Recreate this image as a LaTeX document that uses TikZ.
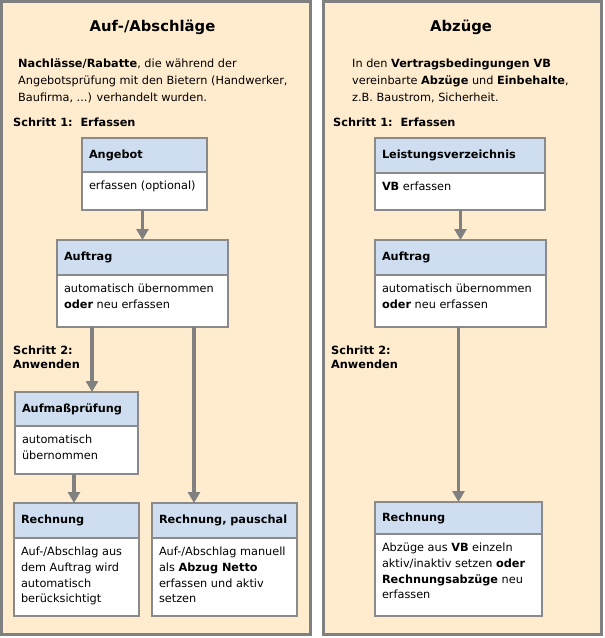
\documentclass[tikz,border=0pt]{standalone}
\usepackage{fontspec}
\setmainfont{DejaVu Sans}
\usetikzlibrary{arrows.meta}
\definecolor{papier}{RGB}{255,235,205}
\definecolor{rahmen}{RGB}{128,128,128}
\definecolor{kante}{RGB}{138,138,138}
\definecolor{kopfblau}{RGB}{206,222,240}
\newcommand{\inhalt}[3]{\parbox[t][#2][t]{#1}{\raggedright\strut #3}}
\tikzset{
	panel/.style={draw=rahmen, fill=papier, line width=3pt},
	titel/.style={anchor=base, inner sep=0pt, font=\fontsize{14.8}{17}\selectfont\bfseries},
	beschreibung/.style={anchor=north west, inner sep=0pt, align=left, font=\fontsize{11.3}{17}\selectfont},
	schritt/.style={anchor=north west, inner sep=0pt, align=left, font=\fontsize{11.3}{14}\selectfont\bfseries},
	kopf/.style={draw=kante, fill=kopfblau, line width=1.5pt, outer sep=0pt, anchor=north west, inner xsep=7pt, inner ysep=0pt, align=left, font=\fontsize{11.3}{15.6}\selectfont\bfseries},
	rumpf/.style={draw=kante, fill=white, line width=1.5pt, outer sep=0pt, anchor=north west, inner sep=7pt, font=\fontsize{11.3}{15.6}\selectfont},
	pfeil/.style={draw=rahmen, line width=3.5pt, -{Triangle[length=11pt,width=12pt]}}
}
\begin{document}
\begin{tikzpicture}[x=1pt,y=-1pt]
	\useasboundingbox (0,0) rectangle (605,638);
	\draw[panel] (1.5,1.5) rectangle (310.5,634);
	\draw[panel] (323,1.5) rectangle (601,634);

	\node[titel] (titelL) at (152.5,31) {Auf-/Abschläge};
	\node[beschreibung] (textL) at (18,55) {\strut\textbf{Nachlässe/Rabatte}, die während der\\Angebotsprüfung mit den Bietern (Handwerker,\\Baufirma, ...) verhandelt wurden.};
	\node[schritt] (schritt1L) at (13,116.2) {\strut Schritt 1:\ \ Erfassen};
	\node[schritt] (schritt2L) at (13,344.5) {\strut Schritt 2:\\Anwenden};

	\node[kopf, text width=111pt, minimum height=34pt] (angebotK) at (82,138) {Angebot};
	\node[rumpf] (angebotR) at (angebotK.south west) {\inhalt{111pt}{24pt}{erfassen (optional)}};
	\node[kopf, text width=157pt, minimum height=35pt] (auftragLK) at (57,240) {Auftrag};
	\node[rumpf] (auftragLR) at (auftragLK.south west) {\inhalt{157pt}{38pt}{automatisch übernommen\\\textbf{oder} neu erfassen}};
	\node[kopf, text width=109pt, minimum height=34pt] (aufmassK) at (15,392) {Aufmaßprüfung};
	\node[rumpf] (aufmassR) at (aufmassK.south west) {\inhalt{109pt}{34pt}{automatisch\\übernommen}};
	\node[kopf, text width=111pt, minimum height=35pt] (rechnungLK) at (14,503) {Rechnung};
	\node[rumpf] (rechnungLR) at (rechnungLK.south west) {\inhalt{111pt}{64pt}{Auf-/Abschlag aus\\dem Auftrag wird\\automatisch\\berücksichtigt}};
	\node[kopf, text width=131pt, minimum height=35pt] (pauschalK) at (152,503) {Rechnung, pauschal};
	\node[rumpf] (pauschalR) at (pauschalK.south west) {\inhalt{131pt}{64pt}{Auf-/Abschlag manuell\\als \textbf{Abzug Netto}\\erfassen und aktiv\\setzen}};

	\coordinate (abzweigA) at ([xshift=35pt]auftragLR.south west);
	\coordinate (abzweigB) at ([xshift=137pt]auftragLR.south west);
	\coordinate (abzweigC) at ([xshift=59pt]aufmassR.south west);
	\draw[pfeil] (auftragLK.north |- angebotR.south) -- (auftragLK.north);
	\draw[pfeil] (abzweigA) -- (abzweigA |- aufmassK.north);
	\draw[pfeil] (abzweigB) -- (abzweigB |- pauschalK.north);
	\draw[pfeil] (abzweigC) -- (abzweigC |- rechnungLK.north);

	\node[titel] (titelR) at (461,31) {Abzüge};
	\node[beschreibung] (textR) at (352,55) {\strut In den \textbf{Vertragsbedingungen VB}\\vereinbarte \textbf{Abzüge} und \textbf{Einbehalte},\\z.B. Baustrom, Sicherheit.};
	\node[schritt] (schritt1R) at (333,116.2) {\strut Schritt 1:\ \ Erfassen};
	\node[schritt] (schritt2R) at (331,344.5) {\strut Schritt 2:\\Anwenden};

	\node[kopf, text width=156pt, minimum height=35pt] (lvK) at (375,138) {Leistungsverzeichnis};
	\node[rumpf] (lvR) at (lvK.south west) {\inhalt{156pt}{23pt}{\textbf{VB} erfassen}};
	\node[kopf, text width=157pt, minimum height=35pt] (auftragRK) at (375,240) {Auftrag};
	\node[rumpf] (auftragRR) at (auftragRK.south west) {\inhalt{157pt}{38pt}{automatisch übernommen\\\textbf{oder} neu erfassen}};
	\node[kopf, text width=153pt, minimum height=32pt] (rechnungRK) at (375,502) {Rechnung};
	\node[rumpf] (rechnungRR) at (rechnungRK.south west) {\inhalt{153pt}{68pt}{Abzüge aus \textbf{VB} einzeln\\aktiv/inaktiv setzen \textbf{oder}\\\textbf{Rechnungsabzüge} neu\\erfassen}};

	\draw[pfeil] (auftragRK.north |- lvR.south) -- (auftragRK.north);
	\draw[pfeil] (rechnungRK.north |- auftragRR.south) -- (rechnungRK.north);
\end{tikzpicture}
\end{document}
